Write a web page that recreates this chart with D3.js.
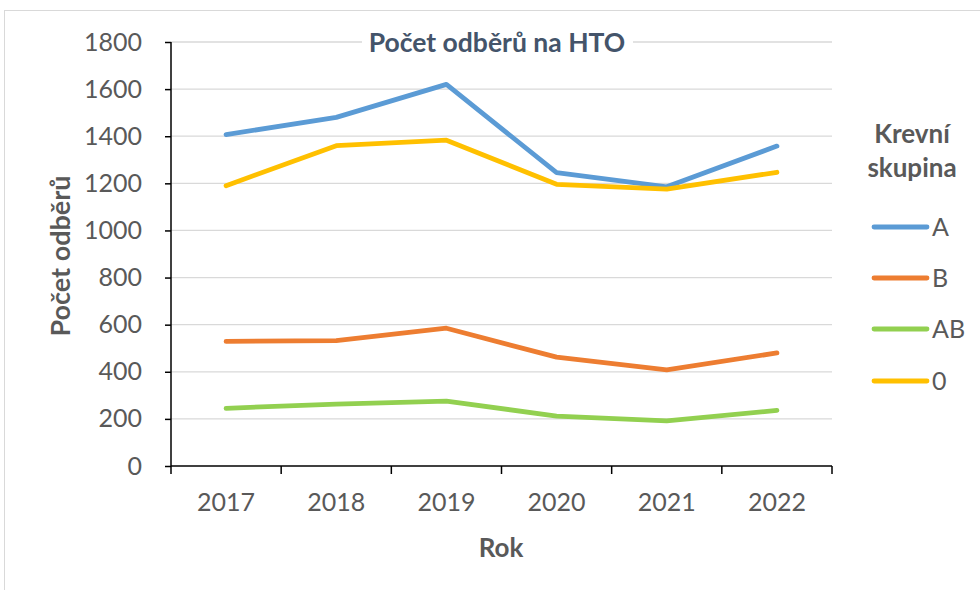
<!DOCTYPE html>
<html><head><meta charset="utf-8">
<script src="https://cdn.jsdelivr.net/npm/d3@7"></script>
<style>body{margin:0;background:#fff}svg{display:block}text{font-family:Lato,"Open Sans",sans-serif}</style>
</head><body>
<script>
const years = ["2017","2018","2019","2020","2021","2022"];
const seriesNames = ["A","B","AB","0"];
const valuesA  = [1407,1480,1620,1245,1185,1358];
const valuesB  = [529,532,585,462,408,480];
const valuesAB = [245,263,275,212,192,236];
const values0  = [1190,1360,1383,1196,1175,1247];
const yTicks = [0,200,400,600,800,1000,1200,1400,1600,1800];
const colors = ["#5B9BD5","#ED7D31","#92D050","#FFC000"];
const allValues = [valuesA,valuesB,valuesAB,values0];

const W=980,H=590;
const svg=d3.select("body").append("svg").attr("width",W).attr("height",H);
svg.append("rect").attr("x",4.5).attr("y",10.5).attr("width",W).attr("height",H).attr("fill","#fff").attr("stroke","#d9d9d9");

const x=d3.scaleBand().domain(years).range([171,832]);
const y=d3.scaleLinear().domain([0,1800]).range([466,42]);

// gridlines
svg.append("g").selectAll("line").data(yTicks.slice(1)).join("line")
  .attr("x1",171).attr("x2",832).attr("y1",d=>y(d)).attr("y2",d=>y(d))
  .attr("stroke","#d9d9d9").attr("stroke-width",1.3);

// y axis
const ya=svg.append("g").attr("transform","translate(171,0)")
  .call(d3.axisLeft(y).tickValues(yTicks).tickSize(6).tickPadding(23).tickFormat(d3.format("d")));
ya.selectAll("text").attr("font-size",25).attr("fill","#595959");
ya.selectAll("line,path").attr("stroke","#000").attr("stroke-width",1.5);
ya.select("path").attr("d","M0,42V466");

// x axis
const xa=svg.append("g").attr("transform","translate(0,466)")
  .call(d3.axisBottom(x).tickSize(0).tickPadding(27));
xa.selectAll("text").attr("font-size",25).attr("fill","#595959");
xa.select("path").attr("stroke","#000").attr("stroke-width",1.5).attr("d","M171,0H832");
xa.append("g").selectAll("line").data(years.map(d=>x(d)).concat([x.range()[1]])).join("line")
  .attr("x1",d=>d).attr("x2",d=>d).attr("y1",0).attr("y2",8).attr("stroke","#000").attr("stroke-width",1.5);

// lines
const line=d3.line().x((d,i)=>x(years[i])+x.bandwidth()/2).y(d=>y(d));
svg.append("g").selectAll("path").data(allValues).join("path")
  .attr("d",line).attr("fill","none").attr("stroke",(d,i)=>colors[i])
  .attr("stroke-width",4.8).attr("stroke-linejoin","round").attr("stroke-linecap","round");

// title
svg.append("rect").attr("x",362).attr("y",28).attr("width",271).attr("height",30).attr("fill","#fff");
svg.append("text").attr("x",497).attr("y",52).attr("text-anchor","middle")
  .attr("font-size",26.5).attr("font-weight","bold").attr("fill","#44546A").text("Počet odběrů na HTO");

// axis titles
svg.append("text").attr("x",501).attr("y",557).attr("text-anchor","middle")
  .attr("font-size",26).attr("font-weight","bold").attr("fill","#595959").text("Rok");
svg.append("text").attr("transform","translate(70,256) rotate(-90)").attr("text-anchor","middle")
  .attr("font-size",27).attr("font-weight","bold").attr("fill","#595959").text("Počet odběrů");

// legend
svg.append("text").attr("x",912).attr("y",143).attr("text-anchor","middle")
  .attr("font-size",26).attr("font-weight","bold").attr("fill","#595959").text("Krevní");
svg.append("text").attr("x",912).attr("y",177).attr("text-anchor","middle")
  .attr("font-size",26).attr("font-weight","bold").attr("fill","#595959").text("skupina");
const lg=svg.append("g").selectAll("g").data(seriesNames).join("g")
  .attr("transform",(d,i)=>`translate(0,${[227,278,329,381][i]})`);
lg.append("line").attr("x1",874).attr("x2",927).attr("stroke",(d,i)=>colors[i])
  .attr("stroke-width",4.8).attr("stroke-linecap","round");
lg.append("text").attr("x",932).attr("y",9).attr("font-size",25).attr("fill","#595959").text(d=>d);
</script>
</body></html>
